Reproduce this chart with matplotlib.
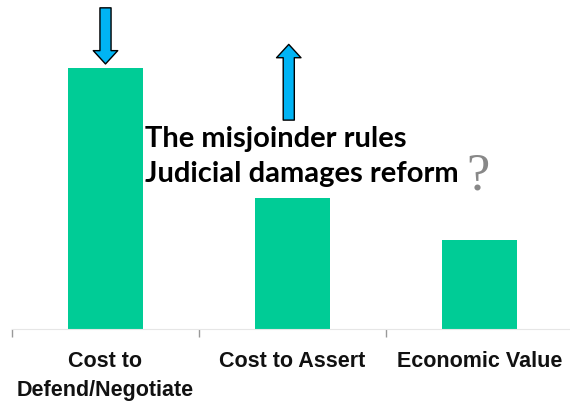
import matplotlib
matplotlib.use("Agg")
import matplotlib.pyplot as plt

categories = ["Cost to\nDefend/Negotiate", "Cost to Assert", "Economic Value"]
values = [100, 50, 34]
note_lines = ["The misjoinder rules", "Judicial damages reform"]

BAR_COLOR = "#00CC96"
ARROW_COLOR = "#00B4F4"

fig = plt.figure(figsize=(5.7, 4.04), dpi=100)
ax = fig.add_axes([12 / 570, 75 / 404, 561 / 570, 329 / 404])

x = range(len(categories))
ax.bar(x, values, width=0.4, color=BAR_COLOR)
ax.set_xlim(-0.5, 2.5)
ax.set_ylim(0, 126)

# only faint category separators on the bottom axis
for side in ["top", "right", "left"]:
    ax.spines[side].set_visible(False)
ax.spines["bottom"].set_color("#e6e6e6")
ax.spines["bottom"].set_linewidth(0.8)
ax.set_yticks([])
ax.set_xticks([-0.5, 0.5, 1.5, 2.5])
ax.set_xticklabels([])
ax.tick_params(axis="x", length=6, width=1, color="#999999", direction="out")
ax.set_xticks(list(x), minor=True)
ax.set_xticklabels(categories, minor=True, fontsize=15.5, fontfamily="Liberation Sans",
                   fontweight="bold", linespacing=1.5, color="#111111")
ax.tick_params(axis="x", which="minor", length=0, pad=16)

# arrows: costs of defending pushed down, costs of asserting pushed up
arrow = dict(arrowstyle="simple,head_width=1.1,head_length=0.6,tail_width=0.5",
             mutation_scale=16, fc=ARROW_COLOR, ec="black", lw=1, shrinkA=0, shrinkB=0)
ax.annotate("", xy=(0, values[0] + 1.5), xytext=(0, 123), arrowprops=arrow)
ax.annotate("", xy=(0.98, 109), xytext=(0.98, 80), arrowprops=arrow)

ax.text(0.21, 69.7, note_lines[0], fontsize=21, fontweight="bold", fontfamily="Lato")
ax.text(0.21, 56.3, note_lines[1], fontsize=21, fontweight="bold", fontfamily="Lato")
ax.text(1.93, 53.3, "?", fontsize=38, color="#888888", fontfamily="Liberation Serif")

fig.savefig("out.png", dpi=100)
